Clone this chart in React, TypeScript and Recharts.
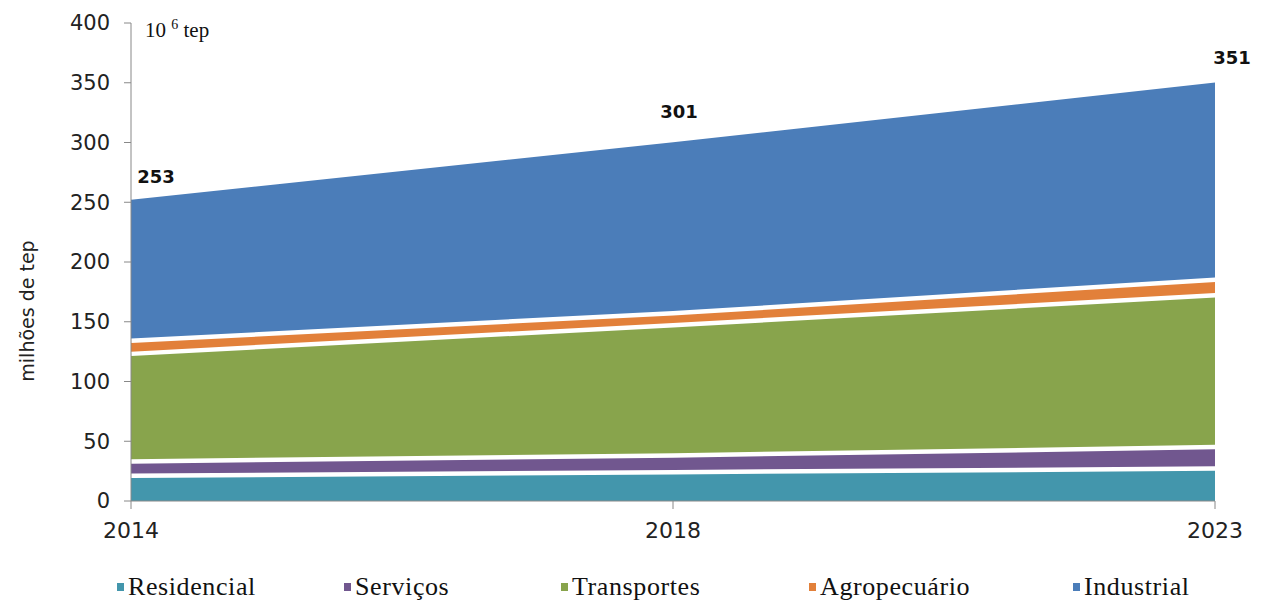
import React from "react"
import { AreaChart, Area, XAxis, YAxis, LabelList } from "recharts"

// consumo final de energia por setor, 10^6 tep
const years = ["2014", "2018", "2023"]
const residencial = [23, 26, 29]
const servicos = [12, 14, 18]
const transportes = [90, 109, 127]
const agropecuario = [11, 10, 13]
const industrial = [117, 142, 164]
const totals = [253, 301, 351]
const yTicks = [0, 50, 100, 150, 200, 250, 300, 350, 400]

const series = [
  { key: "residencial", name: "Residencial", color: "#4396AC" },
  { key: "servicos", name: "Serviços", color: "#71578F" },
  { key: "transportes", name: "Transportes", color: "#88A44C" },
  { key: "agropecuario", name: "Agropecuário", color: "#E2803A" },
  { key: "industrial", name: "Industrial", color: "#4B7DB9" },
]

const data = years.map((year, i) => ({
  year,
  residencial: residencial[i],
  servicos: servicos[i],
  transportes: transportes[i],
  agropecuario: agropecuario[i],
  industrial: industrial[i],
  total: totals[i],
}))

const labelShift = [
  { dx: 25, dy: -22 },
  { dx: 6, dy: -30 },
  { dx: 17, dy: -24 },
]

function TotalLabel(props: any) {
  const { x, y, index } = props
  const s = labelShift[index] ?? { dx: 0, dy: -24 }
  return (
    <text
      x={x + s.dx}
      y={y + s.dy}
      textAnchor="middle"
      dominantBaseline="central"
      fontFamily="DejaVu Sans"
      fontWeight="bold"
      fontSize={18}
      fill="#111"
    >
      {totals[index]}
    </text>
  )
}

// legend drawn outside the chart so it doesn't shrink the plot area
const legendLeft = [117, 344, 561, 809, 1073]

function ChartLegend() {
  return (
    <>
      {series.map((s, i) => (
        <div
          key={s.key}
          style={{ position: "absolute", left: legendLeft[i], top: 572, display: "flex", alignItems: "center" }}
        >
          <span style={{ width: 7, height: 8, background: s.color, marginRight: 4, display: "inline-block" }} />
          <span style={{ fontFamily: "Liberation Serif", fontSize: 26, letterSpacing: 0.6, color: "#111" }}>
            {s.name}
          </span>
        </div>
      ))}
    </>
  )
}

export default function App() {
  return (
    <div style={{ position: "absolute", left: 0, top: 0, width: 1263, height: 601, background: "#fff" }}>
      <AreaChart width={1263} height={601} data={data} margin={{ top: 23, right: 48, left: 0, bottom: 70 }}>
        <XAxis
          dataKey="year"
          tickSize={8}
          tickMargin={13}
          stroke="#888"
          tick={{ fontFamily: "DejaVu Sans", fontSize: 22, fill: "#222" }}
          interval={0}
        />
        <YAxis
          width={131}
          domain={[0, 400]}
          ticks={yTicks}
          tickSize={7}
          tickMargin={14}
          stroke="#888"
          tick={{ fontFamily: "DejaVu Sans", fontSize: 21, fill: "#222" }}
        />
        {series.map((s) => (
          <Area
            key={s.key}
            type="linear"
            dataKey={s.key}
            name={s.name}
            stackId="1"
            fill={s.color}
            fillOpacity={1}
            stroke="#fff"
            strokeWidth={s.key === "industrial" ? 2 : 9}
            isAnimationActive={false}
            dot={false}
            activeDot={false}
          >
            {s.key === "industrial" && <LabelList dataKey="total" content={<TotalLabel />} />}
          </Area>
        ))}
        <text
          transform="translate(27, 311) rotate(-90)"
          textAnchor="middle"
          dominantBaseline="central"
          fontFamily="DejaVu Sans"
          fontSize={19}
          fill="#222"
        >
          milhões de tep
        </text>
        <text x={145} y={37} fontFamily="Liberation Serif" fontSize={21} fill="#111">
          10 <tspan dy={-8} fontSize={14}>6</tspan>
          <tspan dy={8}> tep</tspan>
        </text>
      </AreaChart>
      <ChartLegend />
    </div>
  )
}
